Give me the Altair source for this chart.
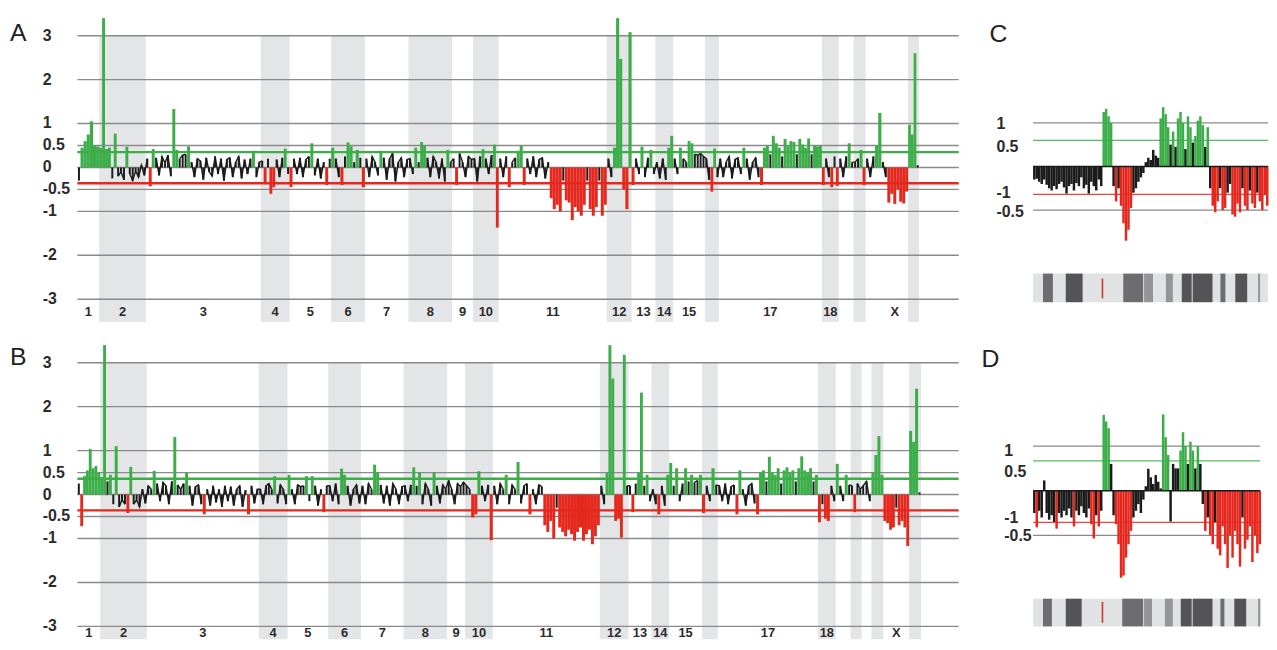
import altair as alt
import pandas as pd

GREEN = "#3cae49"
RED = "#e5281e"
BLACK = "#1b1b1b"
BAND = "#e4e5e7"
GRID = "#8a8a8a"
TEXT = "#2b2b2b"
FONT = "Liberation Sans"

GRID_VALUES = [3, 2, 1, 0.5, 0, -0.5, -1, -2, -3]
GRID_TEXT = ["3", "2", "1", "0.5", "0", "-0.5", "-1", "-2", "-3"]
XMAX = 889

# ---------------- Panel A ----------------
A_NAMES = ["1", "2", "3", "4", "5", "6", "7", "8", "9", "10", "11", "12", "13", "14",
           "15", "16", "17", "18", "19", "20", "21", "X", "Y"]
A_LENGTHS = [22, 47, 116, 29, 42, 34, 44, 44, 21, 26, 109, 25, 24, 18, 32, 14, 104, 17,
             15, 12, 16, 27, 11]
A_SHADED = [0, 1, 0, 1, 0, 1, 0, 1, 0, 1, 0, 1, 0, 1, 0, 1, 0, 1, 0, 1, 0, 0, 1]
A_LABELS = ["1", "2", "3", "4", "5", "6", "7", "8", "9", "10", "11", "12", "13", "14",
            "15", "", "17", "18", "", "", "", "X", ""]
A_VALUES = [
    [-0.3, 0.45, 0.6, 0.75, 1.05, 0.5, 0.48],
    [0.45, 3.4, 0.42, 0.45, -0.25, 0.77, -0.2, -0.1, -0.28, 0.47, -0.15, -0.3, -0.08, -0.22, 0.05, -0.18],
    [0.2, -0.43, 0.42, 0.22, -0.18, 0.25, 0.1, 0.28, -0.2, 1.33, 0.4, 0.2, 0.28, 0.3, 0.48, 0.12,
     -0.22, 0.2, 0.15, -0.28, 0.22, -0.1, -0.2, 0.25, -0.15, 0.2, -0.3, 0.18, 0.22, -0.22, 0.12,
     0.25, -0.25, 0.18, -0.15, 0.2, 0.38, -0.22, 0.12],
    [0.15, -0.38, 0.2, -0.6, -0.45, 0.18, -0.22, 0.22, 0.43, -0.15],
    [-0.45, 0.2, -0.15, 0.22, -0.22, 0.18, 0.25, 0.55, -0.18, 0.2, -0.25, 0.12, -0.4, 0.2],
    [0.45, 0.2, -0.22, -0.4, 0.25, 0.57, 0.48, 0.12, 0.4, 0.22, -0.45],
    [0.2, -0.22, 0.25, 0.12, -0.18, 0.38, 0.22, -0.28, 0.2, 0.32, -0.32, 0.12, 0.22, -0.22, 0.18],
    [0.2, -0.15, 0.45, 0.12, 0.58, 0.5, 0.22, -0.22, 0.25, 0.12, -0.25, 0.2, -0.32, 0.4, 0.12],
    [0.2, -0.4, 0.32, 0.12, -0.22, 0.25, 0.18],
    [0.2, -0.32, 0.25, 0.42, 0.2, -0.15, 0.28, 0.52, -1.37],
    [0.2, -0.22, 0.25, -0.45, 0.12, 0.22, 0.38, 0.5, -0.4, 0.2, -0.15, 0.25, -0.22, 0.18, 0.22, -0.25,
     0.12, -0.7, -0.95, -0.85, -1.0, -0.3, -0.75, -0.8, -1.2, -0.9, -1.0, -1.1, -0.85, -0.3, -0.95,
     -1.1, -0.9, -0.3, -1.1, -0.85],
    [0.2, -0.22, 0.45, 3.4, 2.47, -0.5, -0.95, 3.08],
    [-0.4, 0.2, -0.15, 0.47, -0.22, 0.22, 0.4, -0.15],
    [0.12, -0.25, 0.2, -0.28, 0.45, 0.72],
    [0.2, -0.15, 0.45, 0.2, 0.12, 0.6, 0.55, 0.3, 0.28, 0.32, 0.25],
    [0.2, -0.28, -0.55, 0.43, -0.22],
    [0.2, -0.22, 0.12, 0.25, -0.25, 0.18, 0.22, -0.15, 0.45, 0.2, -0.28, 0.12, 0.22, -0.22, -0.4,
     0.45, 0.5, 0.3, 0.72, 0.55, 0.45, 0.25, 0.65, 0.5, 0.6, 0.58, 0.3, 0.65, 0.52, 0.45, 0.66,
     0.3, 0.5, 0.48, 0.5],
    [-0.4, 0.2, -0.22, -0.45, 0.25, -0.42],
    [0.2, -0.22, 0.25, 0.55, 0.12],
    [0.12, 0.2, 0.4, -0.4],
    [0.2, -0.22, 0.25, 0.5, 1.24],
    [0.12, -0.22, -0.8, -0.6, -0.83, -0.5, -0.78, -0.82, -0.55],
    [0.97, 0.75, 2.6, 0.05],
]
A_GAIN, A_LOSS = 0.35, -0.36

# ---------------- Panel B ----------------
B_NAMES = ["1", "2", "3", "4", "5", "6", "7", "8", "9", "10", "11", "12", "13", "14",
           "15", "16", "17", "18", "19", "20", "21", "22", "X", "Y"]
B_LENGTHS = [23, 47, 113, 29, 41, 33, 43, 44, 18, 28, 108, 29, 23, 18, 33, 16, 101, 18,
             15, 11, 10, 12, 26, 12]
B_SHADED = [0, 1] * 12
B_LABELS = ["1", "2", "3", "4", "5", "6", "7", "8", "9", "10", "11", "12", "13", "14",
            "15", "", "17", "18", "", "", "", "", "X", ""]
B_VALUES = [
    [0.25, -0.72, 0.42, 0.55, 1.04, 0.6, 0.65, 0.5],
    [0.4, 3.4, 0.3, 0.45, -0.22, 1.1, -0.28, -0.12, -0.22, -0.42, 0.63, -0.22, -0.12, -0.28, 0.12, -0.2],
    [0.2, 0.12, 0.54, 0.25, -0.15, 0.28, 0.2, -0.22, 0.3, 1.31, 0.22, 0.12, 0.25, 0.5, 0.2, -0.25,
     0.18, 0.22, -0.22, -0.45, 0.12, -0.25, 0.2, -0.18, 0.12, -0.28, 0.2, -0.15, 0.18, -0.25, 0.12,
     0.2, -0.28, 0.1, -0.45, 0.2, -0.2, 0.12],
    [0.12, -0.22, 0.2, 0.25, 0.12, 0.42, -0.2, 0.22, 0.12, -0.22],
    [0.45, 0.12, -0.22, 0.22, 0.18, 0.2, 0.42, -0.15, 0.42, 0.2, -0.25, 0.12, -0.4, 0.2],
    [0.2, -0.15, 0.25, -0.22, 0.59, 0.45, 0.2, -0.25, 0.12, 0.22, -0.2],
    [0.2, -0.22, 0.25, 0.12, 0.68, 0.5, 0.22, -0.2, 0.2, -0.25, 0.25, 0.12, -0.22, 0.18],
    [0.2, -0.15, 0.22, 0.62, 0.2, 0.5, -0.22, 0.25, 0.12, -0.25, 0.5, 0.2, -0.2, 0.22, 0.12],
    [0.32, 0.12, -0.22, 0.25, 0.18, 0.28],
    [0.2, 0.12, -0.52, -0.45, 0.53, 0.2, -0.15, 0.22, -1.04],
    [0.2, -0.22, 0.25, 0.12, 0.45, -0.22, 0.22, 0.12, 0.74, -0.2, 0.2, 0.25, -0.45, 0.12, -0.22, 0.22,
     0.18, -0.7, -0.85, -0.6, -1.0, -0.3, -0.75, -0.85, -0.95, -0.8, -0.9, -1.05, -0.85, -0.75,
     -1.05, -0.9, -0.8, -1.13, -0.95, -0.7],
    [0.2, -0.22, 0.5, 3.4, 2.64, -0.6, -0.55, -0.98, 3.18, 0.2],
    [0.2, -0.4, 0.25, 0.5, 2.32, 0.2, 0.45, -0.15],
    [0.12, -0.22, -0.45, 0.2, -0.25, 0.45],
    [0.72, 0.2, 0.6, -0.15, 0.25, 0.6, 0.3, 0.45, 0.28, 0.32, 0.45],
    [-0.42, 0.2, -0.15, 0.6, 0.22],
    [0.2, -0.15, 0.25, -0.22, 0.18, 0.22, -0.45, 0.55, 0.12, -0.25, 0.2, 0.25, -0.2, -0.45, 0.5,
     0.55, 0.3, 0.86, 0.5, 0.45, 0.6, 0.25, 0.55, 0.62, 0.5, 0.55, 0.3, 0.6, 0.87, 0.55, 0.5, 0.6,
     0.3, 0.45],
    [-0.63, -0.22, -0.55, -0.6, 0.2, -0.15],
    [0.7, 0.2, -0.15, 0.45, 0.22],
    [0.2, -0.4, 0.25, 0.12],
    [0.2, 0.3, -0.15],
    [0.5, 0.9, 1.33, 0.45],
    [-0.6, -0.65, -0.8, -0.75, -0.3, -0.7, -0.6, -0.75, -1.17],
    [1.45, 1.2, 2.41, 0.05],
]
B_GAIN, B_LOSS = 0.36, -0.36

# ---------------- Panel C ----------------
C_VALUES = [
    -0.3, -0.28, -0.35, -0.4, -0.3, -0.42, -0.5, -0.55, -0.45, -0.52, -0.4, -0.35, -0.48, -0.62,
    -0.45, -0.4, -0.55, -0.38, -0.45, -0.25, -0.5, -0.42, -0.62, -0.35, -0.45, -0.55, -0.3, -0.45,
    1.25, 1.32, 1.15, 1.0,
    -0.45, -0.8, -0.5,
    -0.9, -1.3, -1.7, -1.45, -0.95,
    -0.6, -0.5, -0.35, -0.25, -0.15, 0.1, 0.2, 0.15, 0.38, 0.25, 0.2,
    1.1, 1.36, 1.2, 0.9, 0.5, 0.8, 0.45, 1.1, 1.25, 1.0, 0.4, 1.15, 0.9, 0.55, 0.7, 1.05, 1.15,
    0.95, 0.45, 0.9,
    -0.5, -0.9, -1.05, -0.8, -0.5, -1.0, -0.95, -0.6, -0.4, -1.1, -1.15, -0.85, -1.05, -0.5, -0.9,
    -1.0, -0.55, -0.85, -0.95, -0.6, -0.8, -1.0, -0.65, -0.9,
]
C_GAIN, C_LOSS = 0.6, -0.64
C_TICKS = [0.98, 0.45, -0.61, -1.05]
C_TICK_TEXT = ["1", "0.5", "-1", "-0.5"]
C_BAND_START = [0, 10, 33, 91, 112, 134, 150, 161, 189, 204, 227]
C_BAND_END = [237, 20, 50, 111, 121, 141, 160, 181, 194, 216, 229]
C_BAND_SHADE = ["light", "mid", "dark", "mid", "pale", "pale", "dark", "dark", "mid", "dark", "pale"]
C_MARKER = [70]

# ---------------- Panel D ----------------
D_VALUES = [
    -0.5, -0.82, -0.45, -0.6, 0.23, -0.5, -0.65, -0.55, -0.7, -0.85, -0.5, -0.6, -0.45, -0.55,
    -0.4, -0.6, -0.8, -0.45, -0.55, -0.35, -0.5, -0.6, -0.4, -0.75, -1.07, -0.55, -0.8, -0.45,
    1.7, 1.55, 1.4, 0.6,
    -0.55, -0.75,
    -1.2, -1.95, -1.9, -1.5, -1.2, -0.9,
    -0.6, -0.45, -0.3, -0.5, -0.2, 0.1, 0.49, 0.3, 0.15, 0.35, 0.2, 0.05,
    1.71, 1.2, 0.8, -0.69, 0.6, 0.5, 0.5, 0.9, 1.31, 1.0, 0.6, 1.1, 0.9, 0.5, 1.0, 0.6,
    -0.3, -0.9, -0.6, -1.0, -1.2, -0.7, -1.3, -1.45, -0.8, -1.2, -1.73, -1.0, -1.5, -0.9, -1.2,
    -1.7, -0.6, -1.3, -1.1, -0.8, -1.6, -1.0, -1.4, -1.2,
]
D_GAIN, D_LOSS = 0.67, -0.71
D_TICKS = [0.89, 0.42, -0.62, -1.02]
D_TICK_TEXT = ["1", "0.5", "-1", "-0.5"]
D_BAND_START = [0, 10, 33, 90, 112, 133, 149, 161, 189, 203, 227]
D_BAND_END = [230, 19, 49, 111, 120, 141, 160, 181, 193, 215, 229]
D_BAND_SHADE = ["light", "mid", "dark", "mid", "pale", "pale", "dark", "dark", "mid", "dark", "pale"]
D_MARKER = [70]

CLS_SCALE = alt.Scale(domain=["gain", "loss", "neutral"], range=[GREEN, RED, BLACK])


def classify(v, gain, loss):
    if v > gain:
        return "gain"
    if v < loss:
        return "loss"
    return "neutral"


def make_axis(values, pad):
    # the axis only reserves the label gutter; the labels themselves are text marks
    return alt.Axis(values=values, labels=False, ticks=False, tickSize=0, domain=False,
                    grid=False, title=None, offset=pad)


def tick_labels(values, texts, ys, yaxis, pad):
    return alt.Chart(pd.DataFrame({"g": values, "t": texts})).mark_text(
        font=FONT, fontSize=16, fontWeight="bold", color=TEXT, align="left",
        baseline="middle", dx=-pad).encode(
        x=alt.value(0), y=alt.Y("g:Q", scale=ys, axis=yaxis), text="t:N")


def genome_panel(letter, names, lengths, shaded, labels, values, gain, loss,
                 ydom, height, label_y, letter_y):
    bins, bands, labs = [], [], []
    pos, seg = 0.0, 0
    for name, L, s, lab, vals in zip(names, lengths, shaded, labels, values):
        if s:
            bands.append({"start": pos, "end": pos + L})
        if lab:
            labs.append({"mid": pos + L / 2, "label": lab})
        w = L / len(vals)
        for i, v in enumerate(vals):
            c = classify(v, gain, loss)
            if c != "neutral":
                seg += 1
            bins.append({"x0": pos + i * w, "x1": pos + (i + 1) * w, "xc": pos + (i + 0.5) * w,
                         "v": v, "cls": c, "seg": seg})
        pos += L
    bins = pd.DataFrame(bins)
    xs = alt.Scale(domain=[0, XMAX], nice=False, zero=False)
    ys = alt.Scale(domain=ydom, nice=False, zero=False)
    yaxis = make_axis(GRID_VALUES, 0)

    band_layer = alt.Chart(pd.DataFrame(bands)).mark_rect(color=BAND).encode(
        x=alt.X("start:Q", scale=xs, axis=None), x2="end:Q",
        y=alt.datum(3), y2=alt.datum(ydom[0]))
    grid_layer = alt.Chart(pd.DataFrame({"g": GRID_VALUES})).mark_rule(
        color=GRID, strokeWidth=1.4).encode(y=alt.Y("g:Q", scale=ys, axis=yaxis))
    bar_layer = alt.Chart(bins).transform_filter(alt.datum.cls != "neutral").mark_rect().encode(
        x=alt.X("x0:Q", scale=xs, axis=None), x2="x1:Q",
        y=alt.Y("v:Q", scale=ys, axis=yaxis), y2=alt.datum(0),
        color=alt.Color("cls:N", scale=CLS_SCALE, legend=None))
    tick_layer = alt.Chart(bins).transform_filter(alt.datum.cls == "neutral").mark_rule(
        color=BLACK, strokeWidth=2).encode(
        x=alt.X("xc:Q", scale=xs, axis=None),
        y=alt.Y("v:Q", scale=ys, axis=yaxis), y2=alt.datum(0))
    line_layer = alt.Chart(bins).transform_filter(alt.datum.cls == "neutral").mark_line(
        color=BLACK, strokeWidth=1.4).encode(
        x=alt.X("xc:Q", scale=xs, axis=None), y=alt.Y("v:Q", scale=ys, axis=yaxis),
        detail="seg:N")
    thr_layer = alt.Chart(pd.DataFrame({"t": [gain, loss], "cls": ["gain", "loss"]})).mark_rule(
        strokeWidth=2.4).encode(y=alt.Y("t:Q", scale=ys, axis=yaxis),
                                color=alt.Color("cls:N", scale=CLS_SCALE, legend=None))
    lab_layer = alt.Chart(pd.DataFrame(labs)).mark_text(
        font=FONT, fontSize=13, fontWeight="bold", color=TEXT).encode(
        x=alt.X("mid:Q", scale=xs, axis=None), y=alt.datum(label_y), text="label:N")
    ytext = tick_labels(GRID_VALUES, GRID_TEXT, ys, yaxis, 35)
    letter_layer = alt.Chart(pd.DataFrame({"letter": [letter]})).mark_text(
        font=FONT, fontSize=25, align="left", baseline="alphabetic", color="#222").encode(
        x=alt.value(-68), y=alt.value(letter_y), text="letter:N")
    return alt.layer(band_layer, grid_layer, bar_layer, tick_layer, line_layer, thr_layer,
                     lab_layer, ytext, letter_layer).properties(width=XMAX, height=height)


def zoom_panel(letter, values, gain, loss, ticks, tick_text, ydom, height, width, step,
               label_pad, letter_x, letter_y, bstart, bend, bshade, marker, strip, mark_span):
    rows = []
    for i, v in enumerate(values):
        rows.append({"x0": i * step, "x1": (i + 1) * step, "v": v, "cls": classify(v, gain, loss)})
    bins = pd.DataFrame(rows)
    xs = alt.Scale(domain=[0, width], nice=False, zero=False)
    ys = alt.Scale(domain=ydom, nice=False, zero=False)
    yaxis = make_axis(ticks, 0)
    grid_layer = alt.Chart(pd.DataFrame({"g": [1, -1]})).mark_rule(
        color=GRID, strokeWidth=1.3).encode(y=alt.Y("g:Q", scale=ys, axis=yaxis))
    thr_layer = alt.Chart(pd.DataFrame({"t": [gain, loss], "cls": ["gain", "loss"]})).mark_rule(
        strokeWidth=1.2, opacity=0.85).encode(y=alt.Y("t:Q", scale=ys, axis=yaxis),
                                              color=alt.Color("cls:N", scale=CLS_SCALE, legend=None))
    bar_layer = alt.Chart(bins).mark_rect().encode(
        x=alt.X("x0:Q", scale=xs, axis=None), x2="x1:Q",
        y=alt.Y("v:Q", scale=ys, axis=yaxis), y2=alt.datum(0),
        color=alt.Color("cls:N", scale=CLS_SCALE, legend=None))
    base_layer = alt.Chart(pd.DataFrame({"b": [0]})).mark_rule(
        color=BLACK, strokeWidth=1.6).encode(y=alt.Y("b:Q", scale=ys, axis=yaxis))
    ideo = pd.DataFrame({"s": bstart, "e": bend, "shade": bshade})
    ideo_layer = alt.Chart(ideo).mark_rect().encode(
        x=alt.X("s:Q", scale=xs, axis=None), x2="e:Q",
        y=alt.datum(strip[0]), y2=alt.datum(strip[1]),
        fill=alt.Fill("shade:N", scale=alt.Scale(domain=["light", "pale", "mid", "dark"],
                                                 range=["#e1e2e4", "#959597", "#6d6d6f", "#545456"]),
                      legend=None))
    mark_layer = alt.Chart(pd.DataFrame({"m": marker})).mark_rule(
        color="#c8372a", strokeWidth=1.6).encode(
        x=alt.X("m:Q", scale=xs, axis=None), y=alt.datum(mark_span[0]), y2=alt.datum(mark_span[1]))
    ytext = tick_labels(ticks, tick_text, ys, yaxis, label_pad)
    letter_layer = alt.Chart(pd.DataFrame({"letter": [letter]})).mark_text(
        font=FONT, fontSize=25, align="left", baseline="alphabetic", color="#222").encode(
        x=alt.value(letter_x), y=alt.value(letter_y), text="letter:N")
    return alt.layer(grid_layer, thr_layer, bar_layer, base_layer, ideo_layer, mark_layer,
                     ytext, letter_layer).properties(width=width, height=height)


panel_a = genome_panel("A", A_NAMES, A_LENGTHS, A_SHADED, A_LABELS, A_VALUES, A_GAIN, A_LOSS,
                       [-3.52, 3.41], 307, -3.3, 24)
panel_b = genome_panel("B", B_NAMES, B_LENGTHS, B_SHADED, B_LABELS, B_VALUES, B_GAIN, B_LOSS,
                       [-3.293, 3.43], 298, -3.15, 21)
panel_c = zoom_panel("C", C_VALUES, C_GAIN, C_LOSS, C_TICKS, C_TICK_TEXT, [-3.11, 3.41], 287, 237,
                     2.5, 37, -44, 25, C_BAND_START, C_BAND_END, C_BAND_SHADE, C_MARKER,
                     [-2.455, -3.11], [-2.57, -3.02])
panel_d = zoom_panel("D", D_VALUES, D_GAIN, D_LOSS, D_TICKS, D_TICK_TEXT, [-3.04, 3.29], 285, 229,
                     2.5, 29, -52, 23, D_BAND_START, D_BAND_END, D_BAND_SHADE, D_MARKER,
                     [-2.42, -3.04], [-2.49, -2.96])

left = alt.vconcat(panel_a, panel_b, spacing=22)
right = alt.vconcat(panel_c, panel_d, spacing=42)
chart = alt.hconcat(left, right, spacing=21).properties(
    padding={"left": 2, "top": 7, "right": 0, "bottom": 0}
).configure_view(stroke=None)

chart.save("out.html", embed_options={"renderer": "svg", "actions": False})
